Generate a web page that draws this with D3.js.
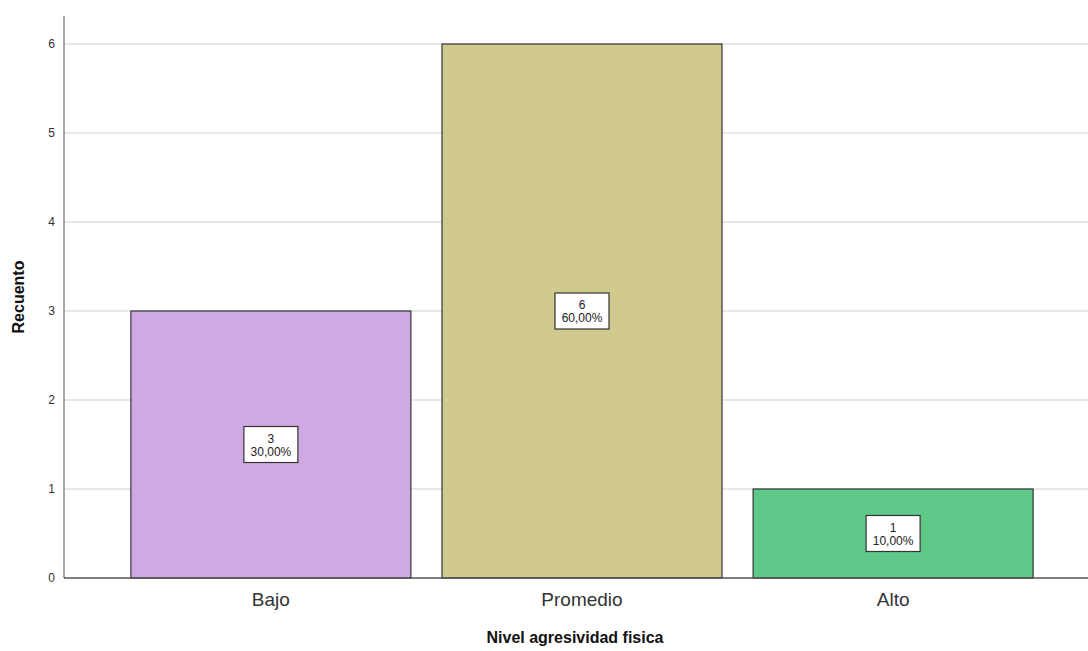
<!DOCTYPE html>
<html><head><meta charset="utf-8">
<script src="https://cdn.jsdelivr.net/npm/d3@7"></script>
<style>body{margin:0;background:#fff;}svg{display:block;font-family:Arial,"Liberation Sans",sans-serif;}</style>
</head><body>
<svg id="c" width="1088" height="651"></svg>
<script>
const categories = ["Bajo", "Promedio", "Alto"];
const counts = [3, 6, 1];
const percents = ["30,00%", "60,00%", "10,00%"];
const colors = ["#cfa9e3", "#d0ca8f", "#5ec988"];
const yTicks = [0, 1, 2, 3, 4, 5, 6];

const svg = d3.select("#c");
const x0 = 64, yTop = 16, yBottom = 578;
const y = d3.scaleLinear().domain([0, 6]).range([yBottom, 44]);
const x = d3.scaleBand().domain(categories).range([x0, 1100]).paddingInner(0.1).paddingOuter(0.215);

// grid
svg.append("g").selectAll("line").data(yTicks.filter(d => d > 0)).join("line")
  .attr("x1", x0).attr("x2", 1088).attr("y1", d => y(d)).attr("y2", d => y(d))
  .attr("stroke", "#cfcfcf").attr("stroke-width", 1.2);

// y axis
const ya = svg.append("g").attr("transform", `translate(${x0},0)`)
  .call(d3.axisLeft(y).tickValues(yTicks).tickSize(0).tickPadding(9).tickFormat(d3.format("d")));
ya.select(".domain").remove();
ya.selectAll("text").attr("font-size", 12).attr("fill", "#333").attr("font-family", "Arial, 'Liberation Sans', sans-serif");
svg.append("line").attr("x1", x0).attr("x2", x0).attr("y1", yTop).attr("y2", yBottom)
  .attr("stroke", "#8a8a8a").attr("stroke-width", 1.5);

// bars
svg.append("g").selectAll("rect").data(categories).join("rect")
  .attr("x", d => x(d)).attr("width", x.bandwidth())
  .attr("y", (d, i) => y(counts[i])).attr("height", (d, i) => y(0) - y(counts[i]))
  .attr("fill", (d, i) => colors[i]).attr("stroke", "#333").attr("stroke-width", 1.2);

// x axis line
svg.append("line").attr("x1", x0).attr("x2", 1088).attr("y1", yBottom).attr("y2", yBottom)
  .attr("stroke", "#555").attr("stroke-width", 1.5);

// x axis labels
const xa = svg.append("g").attr("transform", `translate(0,${yBottom})`)
  .call(d3.axisBottom(x).tickSize(0).tickPadding(15));
xa.select(".domain").remove();
xa.selectAll("text").attr("font-size", 19).attr("fill", "#333").attr("font-family", "Arial, 'Liberation Sans', sans-serif");

// data labels
const lab = svg.append("g").selectAll("g").data(categories).join("g")
  .attr("transform", (d, i) => `translate(${x(d) + x.bandwidth() / 2},${y(counts[i] / 2)})`);
lab.append("rect").attr("x", -27).attr("y", -18).attr("width", 54).attr("height", 36)
  .attr("fill", "#fff").attr("stroke", "#333").attr("stroke-width", 1.2);
lab.append("text").attr("text-anchor", "middle").attr("y", -2).attr("font-size", 12).attr("fill", "#222")
  .text((d, i) => counts[i]);
lab.append("text").attr("text-anchor", "middle").attr("y", 11).attr("font-size", 12).attr("fill", "#222")
  .text((d, i) => percents[i]);

// titles
svg.append("text").attr("transform", "translate(24,297) rotate(-90)").attr("text-anchor", "middle")
  .attr("font-size", 16).attr("font-weight", "bold").attr("fill", "#111").text("Recuento");
svg.append("text").attr("x", 575).attr("y", 643).attr("text-anchor", "middle")
  .attr("font-size", 16).attr("font-weight", "bold").attr("fill", "#111").text("Nivel agresividad fisica");
</script>
</body></html>
